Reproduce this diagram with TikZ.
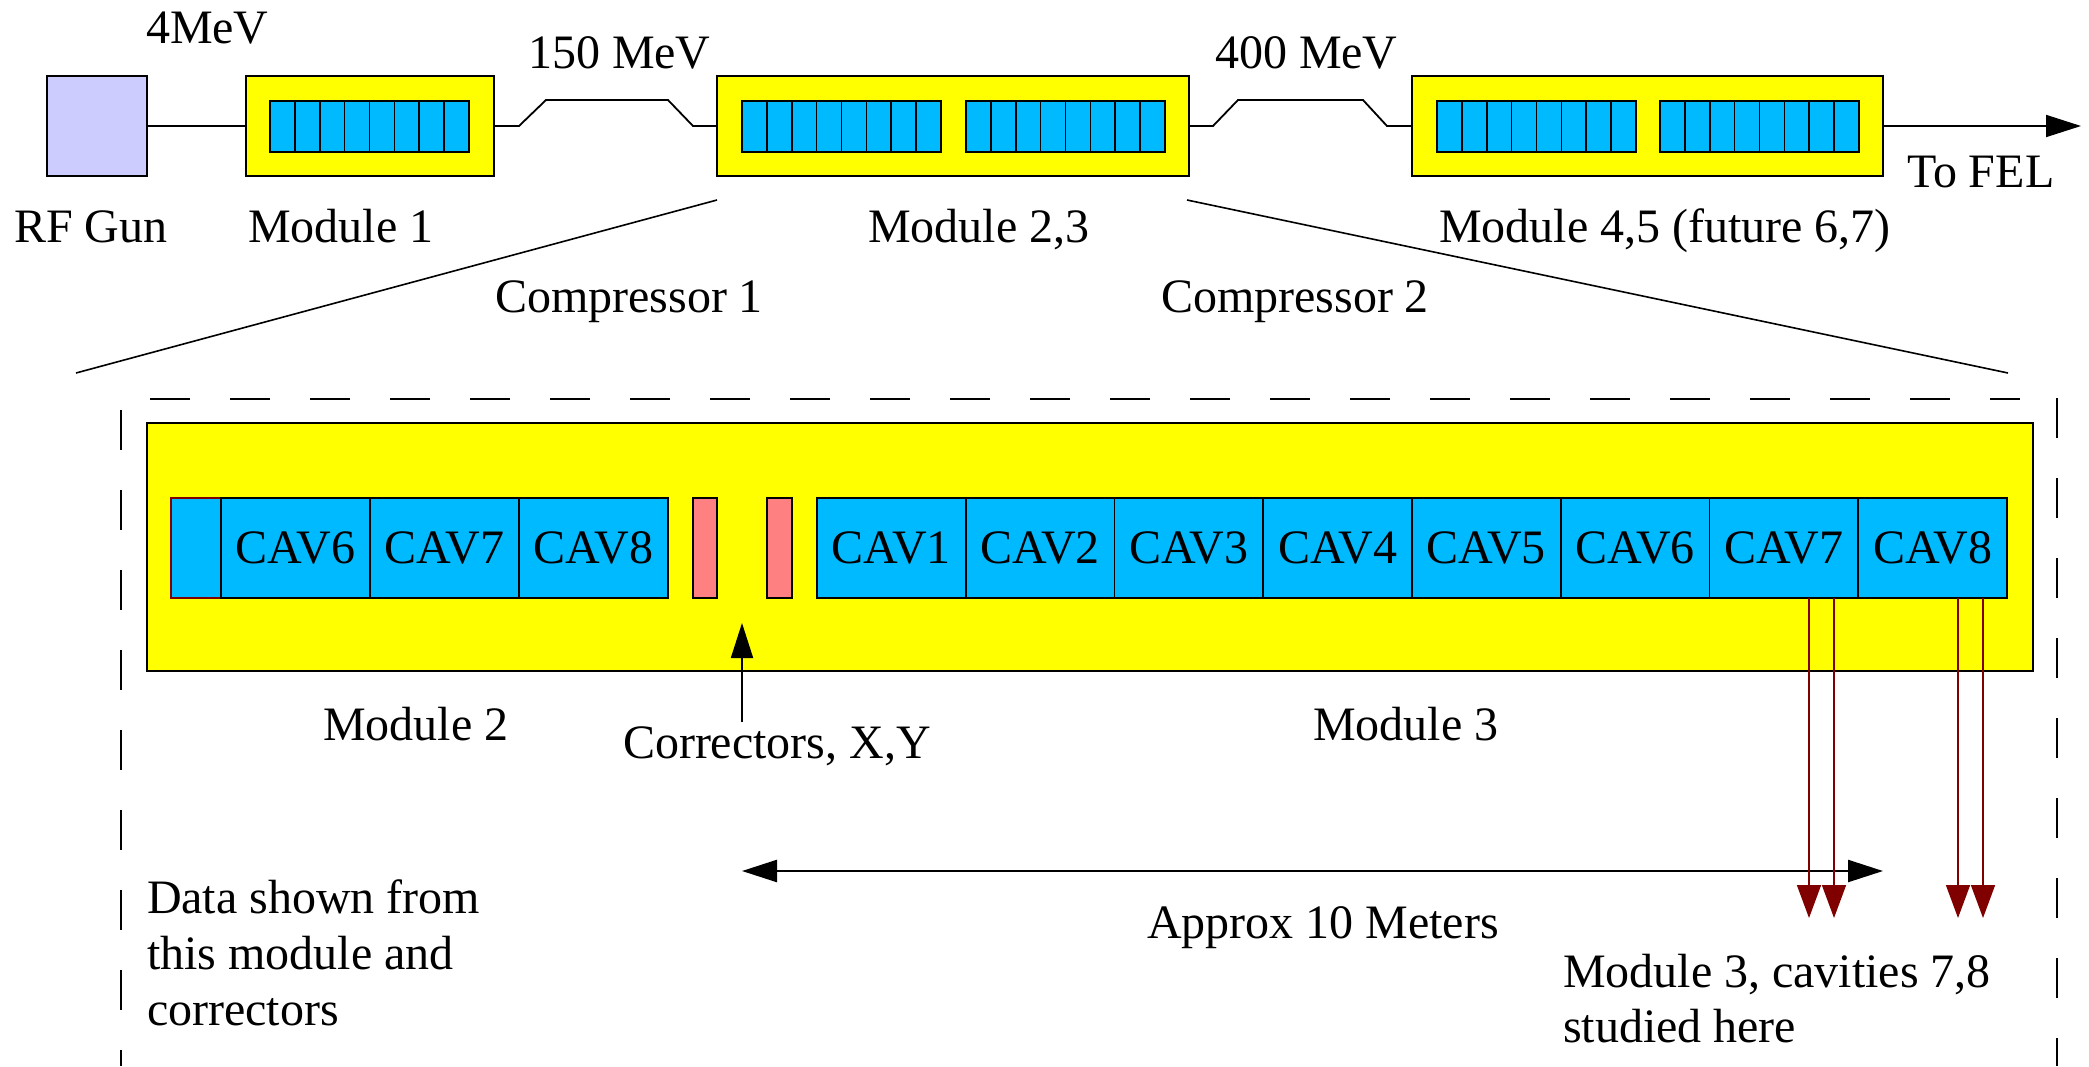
\documentclass[tikz,border=0pt]{standalone}
\usepackage{fontspec}
\setmainfont{Liberation Serif}
\usetikzlibrary{arrows.meta}
\definecolor{modyellow}{HTML}{FFFF00}
\definecolor{cavblue}{HTML}{00BAFF}
\definecolor{gunblue}{HTML}{CCCCFF}
\definecolor{corrpink}{HTML}{FF8080}
\definecolor{darkred}{HTML}{800000}
\begin{document}
\begin{tikzpicture}[x=0.5pt,y=-0.5pt,
  sz/.style 2 args={minimum width=#1*0.5pt, minimum height=#2*0.5pt},
  blk/.style={draw=black, line width=0.9pt, inner sep=0pt, outer sep=0pt},
  modbox/.style={blk, fill=modyellow},
  gunbox/.style={blk, fill=gunblue},
  cellbox/.style={draw=black, line width=0.8pt, fill=cavblue},
  cav/.style={blk, fill=cavblue, sz={148.75}{100}, font=\fontsize{24}{28}\selectfont},
  corr/.style={blk, fill=corrpink},
  lbl/.style={anchor=base west, inner sep=0pt, outer sep=0pt, font=\fontsize{24}{28}\selectfont},
  conn/.style={line width=0.9pt},
  arr/.style={conn, -{Triangle[length=17.5pt,width=11pt]}},
  dblarr/.style={line width=1.2pt, {Triangle[length=17.5pt,width=11pt]}-{Triangle[length=17.5pt,width=11pt]}},
  redarr/.style={draw=darkred, line width=0.8pt, -{Triangle[length=16.5pt,width=12pt]}, darkred},
  dashline/.style={line width=1pt, dash pattern=on 20pt off 20pt},
]
\useasboundingbox (0,0) rectangle (2089,1066);

% ---------- top row ----------
\node[gunbox, sz={100}{100}] (gun) at (97,126) {};
\node[modbox, sz={248}{100}] (m1) at (370,126) {};
\node[modbox, sz={472}{100}] (m23) at (953,126) {};
\node[modbox, sz={471}{100}] (m45) at (1647.5,126) {};

\foreach \sx in {270,742,966,1437,1660}{
  \foreach \k in {0,...,7}{
    \draw[cellbox] (\sx+\k*24.875,101) rectangle ++(24.875,51);
  }
}

\coordinate (fel) at (2081,126);
\draw[conn] (gun.east) -- (m1.west);
\draw[conn] (m1.east) -- ++(25,0) -- ++(27,-26) -- ++(122,0) -- ++(25,26) -- (m23.west);
\draw[conn] (m23.east) -- ++(24,0) -- ++(25,-26) -- ++(125,0) -- ++(24,26) -- (m45.west);
\draw[arr] (m45.east) -- (fel);

\node[lbl] (t4) at (146,43) {4MeV};
\node[lbl] (t150) at (528,68) {150 MeV};
\node[lbl] (t400) at (1215,68) {400 MeV};
\node[lbl] (trf) at (14,242) {RF Gun};
\node[lbl] (tm1) at (248,242) {Module 1};
\node[lbl] (tm23) at (868,242) {Module 2,3};
\node[lbl] (tm45) at (1439,242) {Module 4,5 (future 6,7)};
\node[lbl] (tfel) at (1907,187) {To FEL};
\node[lbl] (tc1) at (495,312) {Compressor 1};
\node[lbl] (tc2) at (1161,312) {Compressor 2};

% ---------- zoom lines ----------
\coordinate (zl0) at (717,200);
\coordinate (zl1) at (76,373);
\coordinate (zr0) at (1187,200);
\coordinate (zr1) at (2008,373);
\draw[line width=0.8pt] (zl0) -- (zl1);
\draw[line width=0.8pt] (zr0) -- (zr1);

% ---------- dashed frame ----------
\coordinate (dt0) at (150,399);
\coordinate (dt1) at (2020,399);
\coordinate (dlft0) at (121,410);
\coordinate (dlft1) at (121,1066);
\coordinate (drt0) at (2057,398);
\coordinate (drt1) at (2057,1066);
\draw[dashline] (dt0) -- (dt1);
\draw[dashline] (dlft0) -- (dlft1);
\draw[dashline] (drt0) -- (drt1);

% ---------- detail of modules 2 and 3 ----------
\node[modbox, sz={1886}{248}] (big) at (1090,547) {};
\node[blk, fill=cavblue, draw=darkred, sz={50}{100}] (c2e) at (196,548) {};
\node[cav] (c26) at (295.5,548) {CAV6};
\node[cav] (c27) at (444.5,548) {CAV7};
\node[cav] (c28) at (593.5,548) {CAV8};
\node[corr, sz={24}{100}] (cx) at (705,548) {};
\node[corr, sz={25}{100}] (cy) at (779.5,548) {};
\foreach \i in {1,...,8}{
  \node[cav] (c3\i) at ({817+148.75*(\i-0.5)},548) {CAV\i};
}

\node[lbl] (tmod2) at (323,740) {Module 2};
\node[lbl] (tmod3) at (1313,740) {Module 3};
\node[lbl] (tcorr) at (623,758) {Correctors, X,Y};
\coordinate (corrtail) at (742,722);
\coordinate (corrtip) at (742,623);
\draw[arr] (corrtail) -- (corrtip);

\coordinate (dl) at (742,871);
\coordinate (dr) at (1883,871);
\draw[dblarr] (dl) -- (dr);
\node[lbl] (tapprox) at (1147,938) {Approx 10 Meters};

\coordinate (r1) at (1809,918);
\coordinate (r2) at (1834,918);
\coordinate (r3) at (1958,918);
\coordinate (r4) at (1983,918);
\draw[redarr] (c37.south -| r1) -- (r1);
\draw[redarr] (c37.south -| r2) -- (r2);
\draw[redarr] (c38.south -| r3) -- (r3);
\draw[redarr] (c38.south -| r4) -- (r4);

\node[lbl] (td1) at (147,913) {Data shown from};
\node[lbl] (td2) at (147,969) {this module and};
\node[lbl] (td3) at (147,1025) {correctors};
\node[lbl] (ts1) at (1563,987) {Module 3, cavities 7,8};
\node[lbl] (ts2) at (1563,1042) {studied here};
\end{tikzpicture}
\end{document}
